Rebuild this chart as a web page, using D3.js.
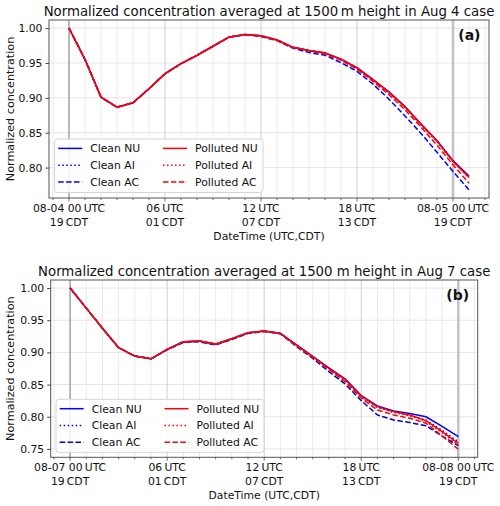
<!DOCTYPE html>
<html><head><meta charset="utf-8">
<script src="https://cdn.jsdelivr.net/npm/d3@7"></script>
<style>body{margin:0;background:#fff} svg{display:block} text{font-family:"DejaVu Sans",sans-serif;fill:#111}</style>
</head><body><svg id="c" width="500" height="506"></svg>
<script>
// ---------- DATA ----------
const seriesNames = ["Clean NU","Clean AI","Clean AC","Polluted NU","Polluted AI","Polluted AC"];
const yTickValues = [0.75,0.80,0.85,0.90,0.95,1.00];

// Panel (a): Aug 4 case, hourly from 08-04 00 UTC
const hoursA = [0,1,2,3,4,5,6,7,8,9,10,11,12,13,14,15,16,17,18,19,20,21,22,23,24,25];
const cleanNU_A    = [1.000,0.955,0.901,0.8866,0.893,0.913,0.9346,0.949,0.961,0.974,0.987,0.9907,0.989,0.983,0.9724,0.9680,0.9643,0.9555,0.9432,0.9262,0.9085,0.8875,0.8625,0.8388,0.8100,0.7880];
const cleanAI_A    = [1.000,0.955,0.901,0.8866,0.893,0.913,0.9346,0.949,0.961,0.974,0.987,0.9907,0.989,0.983,0.9722,0.9678,0.9640,0.9550,0.9425,0.9255,0.9075,0.8865,0.8612,0.8375,0.8088,0.7865];
const cleanAC_A    = [1.000,0.955,0.901,0.8866,0.893,0.913,0.9346,0.949,0.961,0.974,0.987,0.9905,0.988,0.982,0.9712,0.9650,0.9610,0.9505,0.9380,0.9196,0.8980,0.8740,0.8490,0.8220,0.7945,0.7680];
const pollutedNU_A = [1.000,0.955,0.901,0.8866,0.893,0.913,0.9346,0.949,0.961,0.974,0.987,0.9907,0.989,0.983,0.9724,0.9680,0.9645,0.9555,0.9430,0.9260,0.9080,0.8870,0.8620,0.8380,0.8090,0.7860];
const pollutedAI_A = [1.000,0.955,0.901,0.8866,0.893,0.913,0.9346,0.949,0.961,0.974,0.987,0.9907,0.989,0.983,0.9724,0.9680,0.9643,0.9552,0.9427,0.9257,0.9077,0.8866,0.8615,0.8375,0.8085,0.7855];
const pollutedAC_A = [1.000,0.955,0.901,0.8866,0.893,0.913,0.9346,0.949,0.961,0.974,0.987,0.9906,0.9885,0.9825,0.9720,0.9675,0.9630,0.9540,0.9410,0.9235,0.9045,0.8830,0.8580,0.8320,0.8040,0.7776];
const xTicksA = [0,6,12,18,24];
const xTickLabelsA = [["08-04 00\u2009UTC","19\u2009CDT"],["06\u2009UTC","01\u2009CDT"],["12\u2009UTC","07\u2009CDT"],["18\u2009UTC","13\u2009CDT"],["08-05 00\u2009UTC","19\u2009CDT"]];
const titleA = "Normalized concentration averaged at 1500\u2009m height in Aug 4 case";

// Panel (b): Aug 7 case, hourly from 08-07 00 UTC
const hoursB = [0,1,2,3,4,5,6,7,8,9,10,11,12,13,14,15,16,17,18,19,20,21,22,23,24];
const cleanNU_B    = [1.000,0.9688,0.9375,0.9073,0.8943,0.8900,0.9047,0.9167,0.9177,0.9130,0.9213,0.9307,0.9333,0.9297,0.9116,0.8937,0.8760,0.8590,0.8330,0.8168,0.8090,0.8050,0.8000,0.7850,0.7690];
const cleanAI_B    = [1.000,0.9688,0.9375,0.9073,0.8943,0.8900,0.9045,0.9162,0.9172,0.9125,0.9208,0.9302,0.9330,0.9294,0.9110,0.8930,0.8748,0.8575,0.8310,0.8145,0.8068,0.8020,0.7950,0.7790,0.7610];
const cleanAC_B    = [1.000,0.9688,0.9375,0.9073,0.8943,0.8900,0.9040,0.9155,0.9165,0.9115,0.9200,0.9295,0.9325,0.9290,0.9090,0.8907,0.8700,0.8510,0.8250,0.8028,0.7950,0.7910,0.7860,0.7700,0.7550];
const pollutedNU_B = [1.000,0.9688,0.9375,0.9073,0.8943,0.8900,0.9047,0.9167,0.9177,0.9130,0.9213,0.9307,0.9333,0.9295,0.9114,0.8933,0.8752,0.8580,0.8320,0.8157,0.8080,0.8028,0.7940,0.7770,0.7585];
const pollutedAI_B = [1.000,0.9688,0.9375,0.9073,0.8943,0.8900,0.9046,0.9165,0.9175,0.9128,0.9211,0.9305,0.9332,0.9294,0.9112,0.8930,0.8748,0.8572,0.8310,0.8145,0.8070,0.8015,0.7925,0.7750,0.7560];
const pollutedAC_B = [1.000,0.9688,0.9375,0.9073,0.8943,0.8900,0.9045,0.9163,0.9172,0.9125,0.9208,0.9302,0.9330,0.9292,0.9100,0.8920,0.8736,0.8545,0.8287,0.8105,0.8028,0.7976,0.7900,0.7700,0.7495];
const xTicksB = [0,6,12,18,24];
const xTickLabelsB = [["08-07 00\u2009UTC","19\u2009CDT"],["06\u2009UTC","01\u2009CDT"],["12\u2009UTC","07\u2009CDT"],["18\u2009UTC","13\u2009CDT"],["08-08 00\u2009UTC","19\u2009CDT"]];
const titleB = "Normalized concentration averaged at 1500 m height in Aug 7 case";
const xLabel = "DateTime (UTC,CDT)";
const yLabel = "Normalized concentration";

// ---------- DRAW ----------
const svg = d3.select("#c");
const FS = 10.8;

function panel(o){
  const g = svg.append("g");
  const xExt = d3.extent(o.hours), xm = (xExt[1]-xExt[0])*0.05;
  const allV = o.series.flatMap(s=>s.values);
  const yExt = d3.extent(allV), ym = (yExt[1]-yExt[0])*0.05;
  const x = d3.scaleLinear().domain([xExt[0]-xm, xExt[1]+xm]).range([o.left, o.right]);
  const y = d3.scaleLinear().domain([yExt[0]-ym, yExt[1]+ym]).range([o.bottom, o.top]);
  const yt = yTickValues.filter(v=>v>=y.domain()[0] && v<=y.domain()[1]);
  const minor = d3.range(Math.ceil(x.domain()[0]), Math.floor(x.domain()[1])+1);

  // grid
  g.append("g").selectAll("line").data(minor.filter(h=>!o.xTicks.includes(h))).join("line")
    .attr("x1",d=>x(d)).attr("x2",d=>x(d)).attr("y1",o.top).attr("y2",o.bottom)
    .attr("stroke","#ebebeb").attr("stroke-width",1);
  g.append("g").selectAll("line").data(yt).join("line")
    .attr("x1",o.left).attr("x2",o.right).attr("y1",d=>y(d)).attr("y2",d=>y(d))
    .attr("stroke","#e6e6e6").attr("stroke-width",1);
  g.append("g").selectAll("line").data(o.xTicks).join("line")
    .attr("x1",d=>x(d)).attr("x2",d=>x(d)).attr("y1",o.top).attr("y2",o.bottom)
    .attr("stroke","#d0d0d0").attr("stroke-width",1);
  // reference vertical lines
  g.append("line").attr("x1",x(o.hours[0])).attr("x2",x(o.hours[0])).attr("y1",o.top).attr("y2",o.bottom)
    .attr("stroke","#9a9a9a").attr("stroke-width",1.2);
  g.append("line").attr("x1",x(24)).attr("x2",x(24)).attr("y1",o.top).attr("y2",o.bottom)
    .attr("stroke","#c4c4c4").attr("stroke-width",2.6);

  // lines
  const line = d3.line().x((d,i)=>x(o.hours[i])).y(d=>y(d));
  o.series.forEach(s=>{
    g.append("path").attr("d",line(s.values)).attr("fill","none")
      .attr("stroke",s.color).attr("stroke-width",1.5)
      .attr("stroke-dasharray",s.dash||null).attr("stroke-linejoin","round");
  });

  // frame
  g.append("rect").attr("x",o.left).attr("y",o.top).attr("width",o.right-o.left).attr("height",o.bottom-o.top)
    .attr("fill","none").attr("stroke","#555").attr("stroke-width",1);

  // y axis
  const ya = g.append("g").attr("transform",`translate(${o.left},0)`)
    .call(d3.axisLeft(y).tickValues(yt).tickFormat(d3.format(".2f")).tickSize(3.5).tickPadding(3));
  ya.select(".domain").remove();
  ya.selectAll("line").attr("stroke","#444");
  ya.selectAll("text").attr("font-size",FS).attr("font-family","DejaVu Sans").attr("fill","#111");

  // x ticks (major + hourly minor)
  g.append("g").selectAll("line").data(minor).join("line")
    .attr("x1",d=>x(d)).attr("x2",d=>x(d)).attr("y1",o.bottom).attr("y2",d=>o.bottom+(o.xTicks.includes(d)?3.5:2))
    .attr("stroke","#444").attr("stroke-width",0.8);
  // x tick labels (two lines)
  const xl = g.append("g").selectAll("text").data(o.xTicks).join("text")
    .attr("x",d=>x(d)).attr("y",o.bottom+14).attr("text-anchor","middle").attr("font-size",FS);
  xl.each(function(d,i){
    const t = d3.select(this);
    t.append("tspan").attr("x",x(d)).attr("dy",0).text(o.xTickLabels[i][0]);
    t.append("tspan").attr("x",x(d)).attr("dy",13.6).text(o.xTickLabels[i][1]);
  });
  // axis labels
  g.append("text").attr("x",(o.left+o.right)/2).attr("y",o.bottom+41.5).attr("text-anchor","middle")
    .attr("font-size",FS).text(xLabel);
  g.append("text").attr("transform",`translate(14,${(o.top+o.bottom)/2}) rotate(-90)`)
    .attr("text-anchor","middle").attr("font-size",11.2).text(yLabel);
  // title
  g.append("text").attr("x",(o.left+o.right)/2).attr("y",o.top-3.8).attr("text-anchor","middle")
    .attr("font-size",13.3).text(o.title);
  // tag
  g.append("text").attr("x",o.right-8.5).attr("y",o.top+20).attr("text-anchor","end")
    .attr("font-size",14).attr("font-weight","bold").text(o.tag);

  // legend
  const L = o.legend;
  const lg = g.append("g").attr("transform",`translate(${L.x},${L.y})`);
  lg.append("rect").attr("width",L.w).attr("height",L.h).attr("rx",3)
    .attr("fill","#fff").attr("fill-opacity",0.85).attr("stroke","#d5d5d5");
  o.series.forEach((s,i)=>{
    const col = Math.floor(i/3), row = i%3;
    const lx = col ? 108.5 : 3.7, ty = 9.4 + row*16.8;
    lg.append("line").attr("x1",lx).attr("x2",lx+24).attr("y1",ty).attr("y2",ty)
      .attr("stroke",s.color).attr("stroke-width",1.5).attr("stroke-dasharray",s.dash||null);
    lg.append("text").attr("x",lx+32).attr("y",ty+3.9).attr("font-size",FS).text(s.name);
  });
}

const DOT = "1.5,2.5", DASH = "5.5,2.4";
panel({
  left:49, right:489, top:20, bottom:198,
  hours:hoursA, xTicks:xTicksA, xTickLabels:xTickLabelsA, title:titleA, tag:"(a)",
  legend:{x:54.5,y:139,w:208.5,h:53.5},
  series:[
    {name:seriesNames[0], values:cleanNU_A, color:"#0000ff"},
    {name:seriesNames[1], values:cleanAI_A, color:"#0000ff", dash:DOT},
    {name:seriesNames[2], values:cleanAC_A, color:"#0000ff", dash:DASH},
    {name:seriesNames[3], values:pollutedNU_A, color:"#ff0000"},
    {name:seriesNames[4], values:pollutedAI_A, color:"#ff0000", dash:DOT},
    {name:seriesNames[5], values:pollutedAC_A, color:"#ff0000", dash:DASH}
  ]
});
panel({
  left:50.7, right:477.7, top:280, bottom:457.3,
  hours:hoursB, xTicks:xTicksB, xTickLabels:xTickLabelsB, title:titleB, tag:"(b)",
  legend:{x:56,y:399.3,w:208,h:53},
  series:[
    {name:seriesNames[0], values:cleanNU_B, color:"#0000ff"},
    {name:seriesNames[1], values:cleanAI_B, color:"#0000ff", dash:DOT},
    {name:seriesNames[2], values:cleanAC_B, color:"#0000c8", dash:DASH},
    {name:seriesNames[3], values:pollutedNU_B, color:"#ff0000"},
    {name:seriesNames[4], values:pollutedAI_B, color:"#ff0000", dash:DOT},
    {name:seriesNames[5], values:pollutedAC_B, color:"#e01010", dash:DASH}
  ]
});
</script></body></html>
